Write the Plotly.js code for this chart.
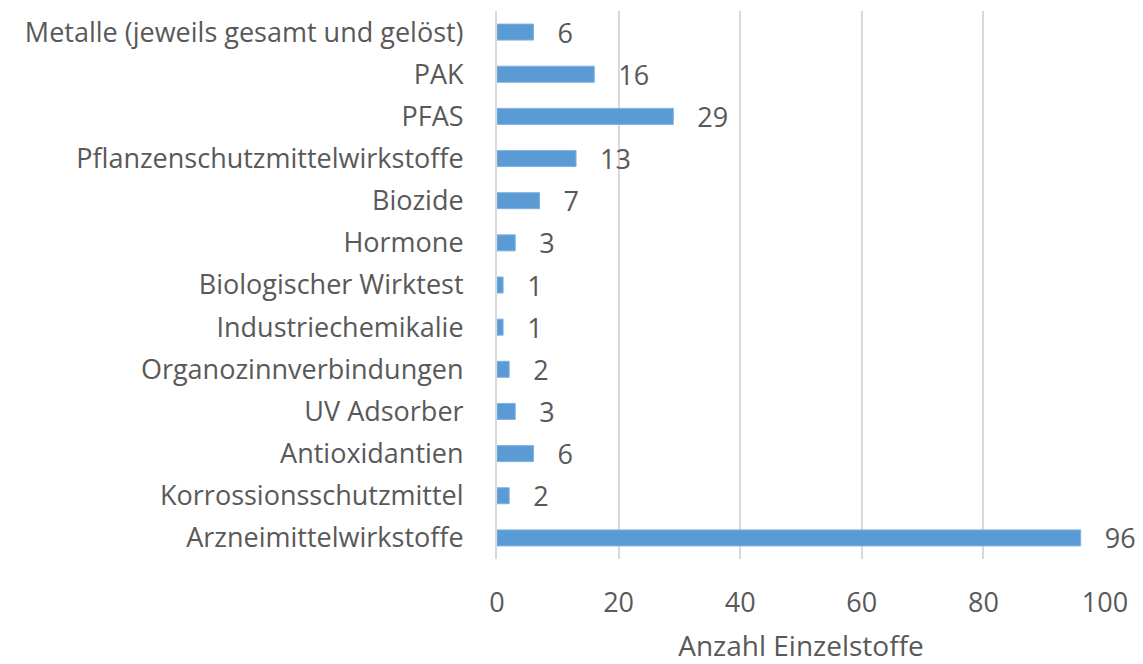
<!DOCTYPE html>
<html>
<head>
<meta charset="utf-8">
<script src="https://cdn.plot.ly/plotly-3.0.1.min.js"></script>
<style>
  html, body { margin: 0; padding: 0; background: #fff; }
  #chart { width: 1143px; height: 664px; }
</style>
</head>
<body>
<div id="chart"></div>
<script>
const categories = [
  'Metalle (jeweils gesamt und gelöst)',
  'PAK',
  'PFAS',
  'Pflanzenschutzmittelwirkstoffe',
  'Biozide',
  'Hormone',
  'Biologischer Wirktest',
  'Industriechemikalie',
  'Organozinnverbindungen',
  'UV Adsorber',
  'Antioxidantien',
  'Korrossionsschutzmittel',
  'Arzneimittelwirkstoffe'
];
const counts = [6, 16, 29, 13, 7, 3, 1, 1, 2, 3, 6, 2, 96];
const xTicks = [0, 20, 40, 60, 80, 100];

const textColor = '#595959';
const font = 'Open Sans, sans-serif';

const trace = {
  type: 'bar',
  orientation: 'h',
  x: counts,
  y: categories,
  marker: { color: '#5b9bd5', line: { color: '#7fb2e0', width: 1 } },
  text: counts.map(v => '\u00a0\u00a0\u00a0' + v),
  textposition: 'outside',
  constraintext: 'none',
  textfont: { family: font, size: 27, color: textColor },
  cliponaxis: false,
  hoverinfo: 'none'
};

const layout = {
  width: 1143,
  height: 664,
  margin: { l: 497, r: 38, t: 11, b: 105 },
  paper_bgcolor: '#fff',
  plot_bgcolor: '#fff',
  showlegend: false,
  bargap: 0.62,
  font: { family: font, size: 27, color: textColor },
  xaxis: {
    range: [0, 100],
    tickvals: xTicks,
    showgrid: true,
    gridcolor: '#d9d9d9',
    gridwidth: 2,
    zeroline: false,
    showline: false,
    ticks: '',
    ticklabelstandoff: 25,
    tickfont: { family: font, size: 27, color: textColor },
    title: { text: 'Anzahl Einzelstoffe', font: { family: font, size: 28, color: textColor }, standoff: 25 }
  },
  yaxis: {
    type: 'category',
    autorange: 'reversed',
    showgrid: false,
    zeroline: false,
    showline: true,
    linecolor: '#d9d9d9',
    linewidth: 2,
    ticks: '',
    ticklabelstandoff: 26,
    tickfont: { family: font, size: 27, color: textColor }
  }
};

Plotly.newPlot('chart', [trace], layout, { displayModeBar: false, staticPlot: true });
</script>
</body>
</html>
